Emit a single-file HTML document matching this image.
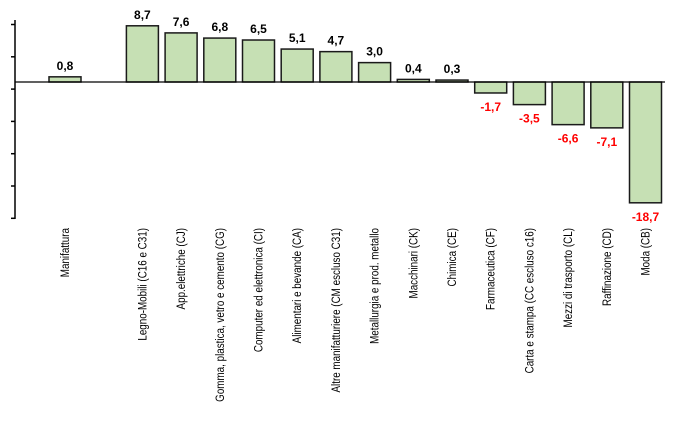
<!DOCTYPE html>
<html><head><meta charset="utf-8"><style>
html,body{margin:0;padding:0;background:#fff;}
svg{display:block;font-family:"Liberation Sans",Arial,sans-serif;}
</style></head><body>
<svg id="chart" width="700" height="427"></svg>
<script>
const categories=["Manifattura","","Legno-Mobili (C16 e C31)","App.elettriche (CJ)","Gomma, plastica, vetro e cemento (CG)","Computer ed elettronica (CI)","Alimentari e bevande (CA)","Altre manifatturiere (CM escluso C31)","Metallurgia  e prod. metallo","Macchinari (CK)","Chimica (CE)","Farmaceutica (CF)","Carta e stampa (CC escluso c16)","Mezzi di trasporto (CL)","Raffinazione (CD)","Moda (CB)"];
const values=[0.8,null,8.7,7.6,6.8,6.5,5.1,4.7,3.0,0.4,0.3,-1.7,-3.5,-6.6,-7.1,-18.7];
const valueLabels=["0,8","","8,7","7,6","6,8","6,5","5,1","4,7","3,0","0,4","0,3","-1,7","-3,5","-6,6","-7,1","-18,7"];
const tickValues=[8.9,3.9,-1.1,-6.1,-11.1,-16.1,-21.1];

const svg=document.getElementById('chart');
const NS='http://www.w3.org/2000/svg';
const zeroY=82, pxPerUnit=6.46;
function y(v){return zeroY-v*pxPerUnit;}
function xc(i){return 65+38.7*i;}
const barW=32;
function mk(tag,attrs){const e=document.createElementNS(NS,tag);for(const k in attrs)e.setAttribute(k,attrs[k]);svg.appendChild(e);return e;}

const axis=mk('line',{x1:15,y1:20,x2:15,y2:219,stroke:'#000','stroke-width':1.5});


tickValues.forEach(t=>{
  const tk=mk('line',{x1:11,x2:15,y1:y(t),y2:y(t),stroke:'#000','stroke-width':1.5});
  
  
});

values.forEach((v,i)=>{
  if(v===null)return;
  const top=Math.min(y(v),zeroY), h=Math.abs(y(v)-zeroY);
  const r=mk('rect',{x:xc(i)-barW/2,y:top,width:barW,height:Math.max(h,1),fill:'#c6e0b4',stroke:'#1a1a1a','stroke-width':1.5});
  
  
  const ly=v>=0?y(v)-7:y(v)+18;
  const t=mk('text',{x:xc(i),y:ly,'text-anchor':'middle','font-size':12,'font-weight':'bold',fill:v>=0?'#000':'#ff0000'});
  t.textContent=valueLabels[i];
  
  
});

const zl=mk('line',{x1:15,x2:665,y1:zeroY,y2:zeroY,stroke:'#000','stroke-width':1.3});



categories.forEach((c,i)=>{
  if(!c)return;
  const t=mk('text',{transform:'translate('+(xc(i)+4)+',228) rotate(-90) scale(0.82,1)','text-anchor':'end','font-size':12,fill:'#000'});
  t.textContent=c;
  
  
});
</script>
</body></html>
